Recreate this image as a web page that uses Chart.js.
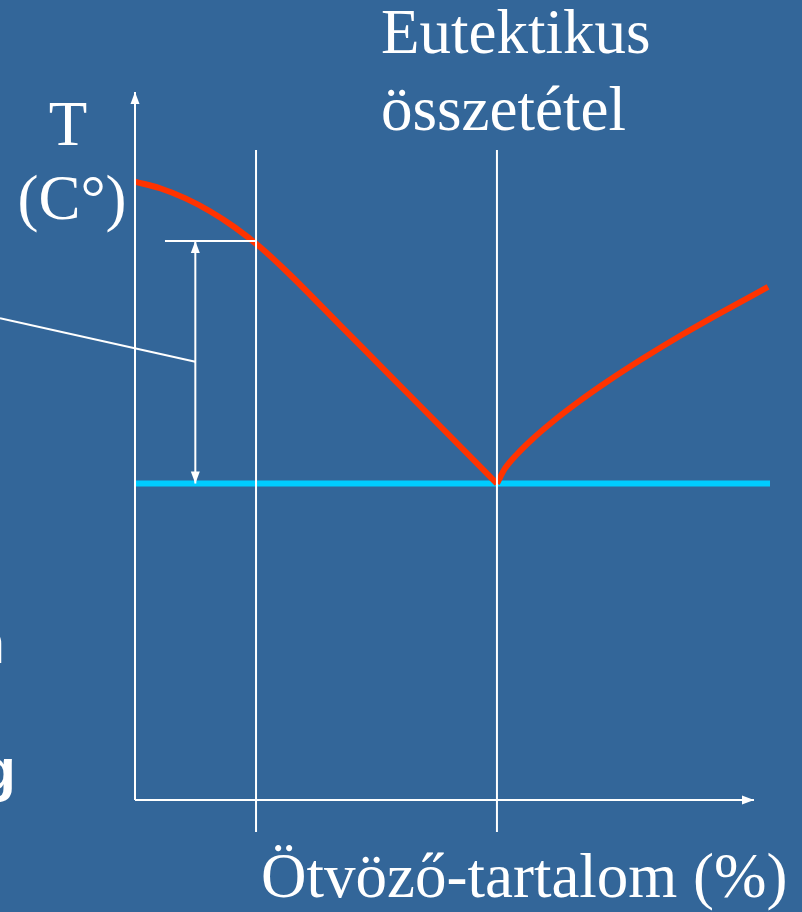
<!DOCTYPE html>
<html>
<head>
<meta charset="utf-8">
<title>Eutektikus összetétel</title>
<script src="https://cdn.jsdelivr.net/npm/chart.js@4/dist/chart.umd.min.js"></script>
<style>
  html, body { margin: 0; padding: 0; background: #336699; }
  canvas { display: block; }
</style>
</head>
<body>
<canvas id="c" width="802" height="912"></canvas>
<script>
// Phase diagram sketch: liquidus curve of a simple eutectic system.
// Units are schematic: alloy content 0..100 (x), temperature 0..100 (y).

// Liquidus, left branch (pure metal -> eutectic point)
const liquidusLeftX = [0, 3.94, 7.87, 11.81, 15.75, 19.69, 24.41, 32.28, 40.16, 48.03, 57.0];
const liquidusLeftT = [88.33, 87.39, 85.98, 84.11, 81.79, 79.0, 75.04, 67.84, 60.63, 53.43, 45.21];

// Liquidus, right branch (eutectic point -> higher alloy content)
const liquidusRightX = [57.0, 58.27, 60.16, 62.52, 65.67, 69.61, 74.33, 79.84, 86.14, 92.44, 99.69];
const liquidusRightT = [45.21, 47.36, 49.4, 51.51, 53.97, 56.73, 59.74, 62.99, 66.46, 69.7, 73.29];

// Eutectic (solidus) line
const eutecticX = 57.0;
const eutecticT = 45.21;
const solidusX = [0, 100];

// Chosen alloy and its liquidus temperature
const alloyX = 19.06;
const alloyT = 79.86;
const markerX = 9.5;           // position of the double arrow
const tickStartX = 4.72;       // start of the short level line
const guideT = [-4.57, 92.86]; // extent of the vertical guide lines

// Leader line pointing at the solidification interval
const leaderX = [-21.26, 9.5];
const leaderT = [68.81, 62.61];

// Axes
const axisTipX = 97.48;
const axisTipT = 101.14;

const xRange = [0, 100];
const yRange = [0, 100];

const toPts = (xs, ys) => xs.map((x, i) => ({ x: x, y: ys[i] }));

const WHITE = '#ffffff';
const RED = '#ff3300';
const CYAN = '#00ccff';

function line(points, color, width, order, extra) {
  return Object.assign({
    data: points,
    showLine: true,
    borderColor: color,
    backgroundColor: color,
    borderWidth: width,
    pointRadius: 0,
    pointHoverRadius: 0,
    fill: false,
    clip: false,
    order: order
  }, extra || {});
}

// Arrow heads, given as [tipX, tipY, baseX, baseY] in data units
const arrowHeads = [
  [0, axisTipT, 0, 0],
  [axisTipX, 0, 0, 0],
  [markerX, alloyT, markerX, eutecticT],
  [markerX, eutecticT, markerX, alloyT]
];

const arrowPlugin = {
  id: 'arrowHeads',
  afterDatasetsDraw(chart) {
    const { ctx, scales } = chart;
    const len = 12, half = 4.5;
    ctx.save();
    ctx.fillStyle = WHITE;
    arrowHeads.forEach(([tx, ty, bx, by]) => {
      const px = scales.x.getPixelForValue(tx);
      const py = scales.y.getPixelForValue(ty);
      const qx = scales.x.getPixelForValue(bx);
      const qy = scales.y.getPixelForValue(by);
      const d = Math.hypot(px - qx, py - qy);
      const ux = (px - qx) / d, uy = (py - qy) / d;
      const cx = px - ux * len, cy = py - uy * len;
      ctx.beginPath();
      ctx.moveTo(px, py);
      ctx.lineTo(cx - uy * half, cy + ux * half);
      ctx.lineTo(cx + uy * half, cy - ux * half);
      ctx.closePath();
      ctx.fill();
    });
    ctx.restore();
  }
};

const labelPlugin = {
  id: 'labels',
  beforeDraw(chart) {
    const ctx = chart.ctx;
    ctx.save();
    ctx.fillStyle = '#336699';
    ctx.fillRect(0, 0, chart.width, chart.height);
    ctx.restore();
  },
  afterDraw(chart) {
    const ctx = chart.ctx;
    ctx.save();
    ctx.fillStyle = WHITE;
    ctx.textBaseline = 'alphabetic';
    ctx.font = '63px "Liberation Serif", "Times New Roman", serif';
    ctx.textAlign = 'left';
    ctx.fillText('Eutektikus', 381, 53);
    ctx.fillText('összetétel', 381, 130);
    ctx.fillText('Ötvöző-tartalom (%)', 261, 897);
    ctx.textAlign = 'center';
    ctx.fillText('T', 68, 145);
    ctx.fillText('(C°)', 72, 219);
    ctx.font = 'bold 60px "Liberation Sans", Arial, sans-serif';
    ctx.textAlign = 'right';
    ctx.fillText('n', 5, 663);
    ctx.fillText('g', 16, 790);
    ctx.restore();
  }
};

new Chart(document.getElementById('c'), {
  type: 'scatter',
  data: {
    datasets: [
      // white construction lines (on top)
      line(toPts([0, 0], [0, axisTipT]), WHITE, 2, 0),
      line(toPts([0, axisTipX], [0, 0]), WHITE, 2, 0),
      line(toPts([alloyX, alloyX], guideT), WHITE, 2, 0),
      line(toPts([eutecticX, eutecticX], guideT), WHITE, 2, 0),
      line(toPts([tickStartX, alloyX], [alloyT, alloyT]), WHITE, 2, 0),
      line(toPts([markerX, markerX], [alloyT, eutecticT]), WHITE, 2, 0),
      line(toPts(leaderX, leaderT), WHITE, 2, 0),
      // liquidus
      line(toPts(liquidusLeftX, liquidusLeftT), RED, 6, 1, { cubicInterpolationMode: 'monotone' }),
      line(toPts(liquidusRightX, liquidusRightT), RED, 6, 1, { cubicInterpolationMode: 'monotone' }),
      // eutectic line
      line(toPts(solidusX, [eutecticT, eutecticT]), CYAN, 6, 2)
    ]
  },
  options: {
    responsive: false,
    animation: false,
    events: [],
    layout: { padding: { left: 135, right: 32, top: 100, bottom: 112 } },
    scales: {
      x: { type: 'linear', min: xRange[0], max: xRange[1], display: false },
      y: { type: 'linear', min: yRange[0], max: yRange[1], display: false }
    },
    plugins: {
      legend: { display: false },
      tooltip: { enabled: false }
    }
  },
  plugins: [labelPlugin, arrowPlugin]
});
</script>
</body>
</html>
